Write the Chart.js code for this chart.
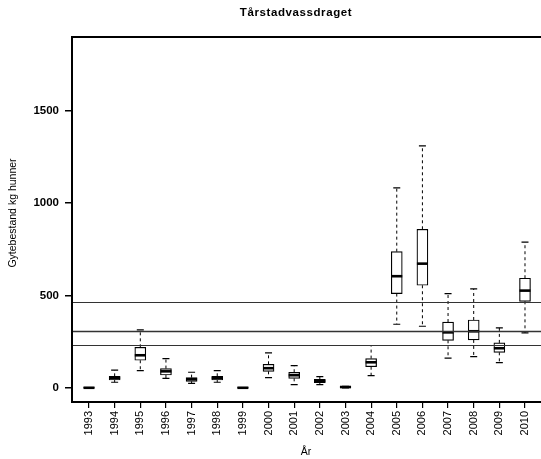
<!DOCTYPE html>
<html>
<head>
<meta charset="utf-8">
<script src="https://cdn.jsdelivr.net/npm/chart.js@4/dist/chart.umd.min.js"></script>
<style>
  html, body { margin: 0; padding: 0; background: #fff; overflow: hidden; }
  canvas { display: block; }
</style>
</head>
<body>
<canvas id="chart" width="544" height="459"></canvas>
<script>
// box statistics per year (kg)
const years   = [1993, 1994, 1995, 1996, 1997, 1998, 1999, 2000, 2001, 2002, 2003, 2004, 2005, 2006, 2007, 2008, 2009, 2010];
const mins    = [0,   31,  94,  52, 25, 31, 0,   56,  18, 18, 1,  67,  345,  334,  162, 170, 137, 298];
const q1s     = [0.5, 43,  150, 70, 36, 43, 0.5, 90,  52, 29, 3,  115, 511,  556,  258, 260, 193, 469];
const medians = [1,   54,  177, 90, 47, 54, 1,   107, 69, 38, 5,  139, 605,  673,  301, 307, 215, 527];
const q3s     = [1.5, 63,  220, 105, 56, 63, 1.5, 128, 85, 47, 7,  159, 738,  859,  357, 368, 244, 594];
const maxs    = [2,   97,  314, 159, 85, 94, 2,   190, 121, 61, 9, 230, 1083, 1311, 511, 536, 325, 789];

const refLines = [466, 309, 231];
const refWidths = [1, 1.7, 1];
const yTicks = [0, 500, 1000, 1500];

const titleText = "Tårstadvassdraget";
const yTitle = "Gytebestand kg hunner";
const xTitle = "År";

const boxExtras = {
  id: "boxExtras",
  afterDatasetsDraw(chart) {
    const { ctx, scales: { x, y }, chartArea } = chart;
    ctx.save();
    ctx.strokeStyle = "#000";
    years.forEach((yr, i) => {
      const px = x.getPixelForValue(yr);
      // dashed whiskers
      ctx.lineWidth = 1;
      ctx.setLineDash([3, 3]);
      ctx.beginPath();
      ctx.moveTo(px, y.getPixelForValue(q3s[i]));
      ctx.lineTo(px, y.getPixelForValue(maxs[i]));
      ctx.moveTo(px, y.getPixelForValue(q1s[i]));
      ctx.lineTo(px, y.getPixelForValue(mins[i]));
      ctx.stroke();
      ctx.setLineDash([]);
      // caps
      ctx.lineWidth = 1.2;
      ctx.beginPath();
      ctx.moveTo(px - 3.5, y.getPixelForValue(maxs[i]));
      ctx.lineTo(px + 3.5, y.getPixelForValue(maxs[i]));
      ctx.moveTo(px - 3.5, y.getPixelForValue(mins[i]));
      ctx.lineTo(px + 3.5, y.getPixelForValue(mins[i]));
      ctx.stroke();
      // median
      ctx.lineWidth = 2.6;
      ctx.beginPath();
      ctx.moveTo(px - 5.5, y.getPixelForValue(medians[i]));
      ctx.lineTo(px + 5.5, y.getPixelForValue(medians[i]));
      ctx.stroke();
    });
    // reference lines
    ctx.strokeStyle = "#333";
    refLines.forEach((v, i) => {
      const py = Math.round(y.getPixelForValue(v)) + 0.5;
      ctx.lineWidth = refWidths[i];
      ctx.beginPath();
      ctx.moveTo(chartArea.left, py);
      ctx.lineTo(chartArea.right, py);
      ctx.stroke();
    });
    // frame
    ctx.strokeStyle = "#000";
    ctx.lineWidth = 2;
    ctx.strokeRect(chartArea.left, chartArea.top, chartArea.right - chartArea.left, chartArea.bottom - chartArea.top);

    // texts
    ctx.fillStyle = "#000";
    ctx.textAlign = "center";
    ctx.textBaseline = "middle";
    ctx.font = "bold 11.5px 'Liberation Sans', Arial, sans-serif";
    ctx.letterSpacing = "0.6px";
    ctx.fillText(titleText, 296, 13);
    ctx.letterSpacing = "0px";
    ctx.font = "10.5px 'Liberation Sans', Arial, sans-serif";
    ctx.fillText(xTitle, 306, 452);
    ctx.translate(13, 213);
    ctx.rotate(-Math.PI / 2);
    ctx.fillText(yTitle, 0, 0);
    ctx.restore();
  }
};

new Chart(document.getElementById("chart"), {
  type: "bar",
  data: {
    datasets: [{
      data: years.map((yr, i) => ({ x: yr, y: [q1s[i], q3s[i]] })),
      backgroundColor: "#fff",
      borderColor: "#000",
      borderWidth: 1.2,
      borderSkipped: false,
      barThickness: 11
    }]
  },
  options: {
    responsive: false,
    animation: false,
    devicePixelRatio: 1,
    layout: { padding: { left: 0, top: 37, right: 2, bottom: 0 } },
    plugins: { legend: { display: false }, tooltip: { enabled: false }, title: { display: false } },
    scales: {
      x: {
        type: "linear",
        min: 1992.337,
        max: 2010.663,
        offset: false,
        border: { display: false },
        grid: { offset: false, drawOnChartArea: false, tickLength: 6, color: "#000", lineWidth: 1.2 },
        ticks: {
          autoSkip: false,
          minRotation: 90,
          maxRotation: 90,
          padding: 3,
          color: "#000",
          font: { family: "'Liberation Sans', Arial, sans-serif", size: 11 },
          callback: v => String(v)
        },
        afterBuildTicks: s => { s.ticks = years.map(v => ({ value: v })); },
        afterFit: s => { s.height = 57; }
      },
      y: {
        min: -76,
        max: 1900,
        border: { display: false },
        grid: { drawOnChartArea: false, tickLength: 7, color: "#000", lineWidth: 1.5 },
        ticks: {
          padding: 6,
          color: "#000",
          font: { family: "'Liberation Sans', Arial, sans-serif", size: 11.5, weight: "bold" },
          callback: v => String(v)
        },
        afterBuildTicks: s => { s.ticks = yTicks.map(v => ({ value: v })); },
        afterFit: s => { s.width = 72; }
      }
    }
  },
  plugins: [boxExtras]
});
</script>
</body>
</html>
